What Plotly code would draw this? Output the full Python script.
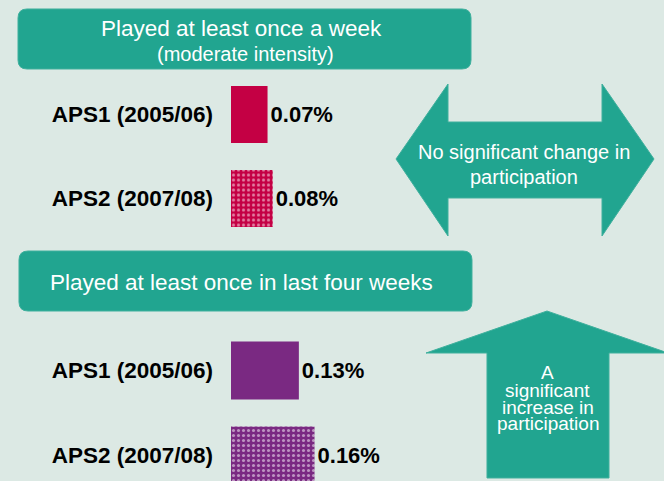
import plotly.graph_objects as go

# ---- data ----
categories = ["APS1 (2005/06)", "APS2 (2007/08)"]
weekly_values = [0.07, 0.08]
monthly_values = [0.13, 0.16]
bar_patterns = ["", "."]
header_weekly = "Played at least once a week"
header_weekly_sub = "(moderate intensity)"
header_monthly = "Played at least once in last four weeks"
arrow_weekly_text = ["No significant change in", "participation"]
arrow_monthly_text = ["A", "significant", "increase in", "participation"]

# ---- style ----
W, H = 664, 481
BG = "#dce9e4"
TEAL = "#21a590"
TEAL_EDGE = "#3fb09d"
CRIMSON = "#c40044"
PURPLE = "#7a2982"
TITLE_FONT = "Liberation Sans, Arial, sans-serif"


def px(x):
    return x / W


def py(y):
    return 1 - y / H


def path_from(points):
    return "M " + " L ".join(f"{px(x):.5f},{py(y):.5f}" for x, y in points) + " Z"


def rounded_rect(x0, y0, x1, y1, r):
    p = [
        f"M {px(x0 + r):.5f},{py(y0):.5f}",
        f"L {px(x1 - r):.5f},{py(y0):.5f}",
        f"Q {px(x1):.5f},{py(y0):.5f} {px(x1):.5f},{py(y0 + r):.5f}",
        f"L {px(x1):.5f},{py(y1 - r):.5f}",
        f"Q {px(x1):.5f},{py(y1):.5f} {px(x1 - r):.5f},{py(y1):.5f}",
        f"L {px(x0 + r):.5f},{py(y1):.5f}",
        f"Q {px(x0):.5f},{py(y1):.5f} {px(x0):.5f},{py(y1 - r):.5f}",
        f"L {px(x0):.5f},{py(y0 + r):.5f}",
        f"Q {px(x0):.5f},{py(y0):.5f} {px(x0 + r):.5f},{py(y0):.5f}",
        "Z",
    ]
    return " ".join(p)


fig = go.Figure()

value_font = dict(family="Liberation Sans, Arial, sans-serif", size=22, color="black", weight="bold")

for vals, color, xa, ya in [(weekly_values, CRIMSON, "x", "y"), (monthly_values, PURPLE, "x2", "y2")]:
    fig.add_trace(go.Bar(
        y=categories, x=vals, orientation="h", xaxis=xa, yaxis=ya,
        width=0.68,
        marker=dict(color=color, line_width=0,
                    pattern=dict(shape=bar_patterns, fgcolor="white", size=5,
                                 solidity=0.3, fillmode="overlay")),
        texttemplate="%{x:.2f}%", textposition="outside",
        outsidetextfont=value_font, cliponaxis=False,
        hoverinfo="skip", showlegend=False,
    ))

xscale = 522.0  # pixels per 1.0 %
xaxis_common = dict(range=[0, (W - 231) / xscale], domain=[231 / W, 1],
                    visible=False, fixedrange=True)
yaxis_common = dict(type="category", showgrid=False, zeroline=False, showline=False,
                    ticks="", ticklabelstandoff=17, fixedrange=True,
                    tickfont=dict(family="Liberation Sans, Arial, sans-serif", size=22.5,
                                  color="black", weight="bold"))

shapes = [
    dict(type="path", path=rounded_rect(18, 9, 471, 69, 9), xref="paper", yref="paper",
         fillcolor=TEAL, line=dict(color=TEAL_EDGE, width=1), layer="below"),
    dict(type="path", path=rounded_rect(19, 251, 472, 311, 9), xref="paper", yref="paper",
         fillcolor=TEAL, line=dict(color=TEAL_EDGE, width=1), layer="below"),
    dict(type="path", xref="paper", yref="paper", layer="below",
         path=path_from([(396, 159), (448, 84), (448, 122), (602, 122), (602, 84), (654, 159),
                         (602, 236), (602, 198), (448, 198), (448, 236)]),
         fillcolor=TEAL, line=dict(color=TEAL_EDGE, width=1)),
    dict(type="path", xref="paper", yref="paper", layer="below",
         path=path_from([(547, 311), (668, 353), (609, 353), (609, 478), (487, 478),
                         (487, 353), (426, 353)]),
         fillcolor=TEAL, line=dict(color=TEAL_EDGE, width=1)),
]

annotations = []


def add_text(text, x, y, size, color="white"):
    annotations.append(dict(text=text, x=px(x), y=py(y), xref="paper", yref="paper",
                            xanchor="center", yanchor="middle", showarrow=False,
                            font=dict(family=TITLE_FONT, size=size, color=color)))


add_text(header_weekly, 241, 28, 22.5)
add_text(header_weekly_sub, 245, 54, 20)
add_text(header_monthly, 241.5, 282, 22.5)
for t, y in zip(arrow_weekly_text, [152, 177]):
    add_text(t, 524, y, 20)
for t, y in zip(arrow_monthly_text, [372, 390, 407, 423]):
    add_text(t, 547.5, y, 19)

fig.update_layout(
    width=W, height=H, margin=dict(l=0, r=0, t=0, b=0),
    paper_bgcolor=BG, plot_bgcolor="rgba(0,0,0,0)",
    xaxis=dict(anchor="y", **xaxis_common),
    yaxis=dict(anchor="x", domain=[1 - 240.5 / H, 1 - 72.5 / H], range=[1.5, -0.5], **yaxis_common),
    xaxis2=dict(anchor="y2", **xaxis_common),
    yaxis2=dict(anchor="x2", domain=[0, 1 - 328 / H], range=[1.3, -0.5], **yaxis_common),
    shapes=shapes, annotations=annotations, showlegend=False, bargap=0.3,
)

fig.write_html(
    "out.html",
    config={"displayModeBar": False},
    post_script="document.body.style.margin='0';document.body.style.background='%s';" % BG,
)
